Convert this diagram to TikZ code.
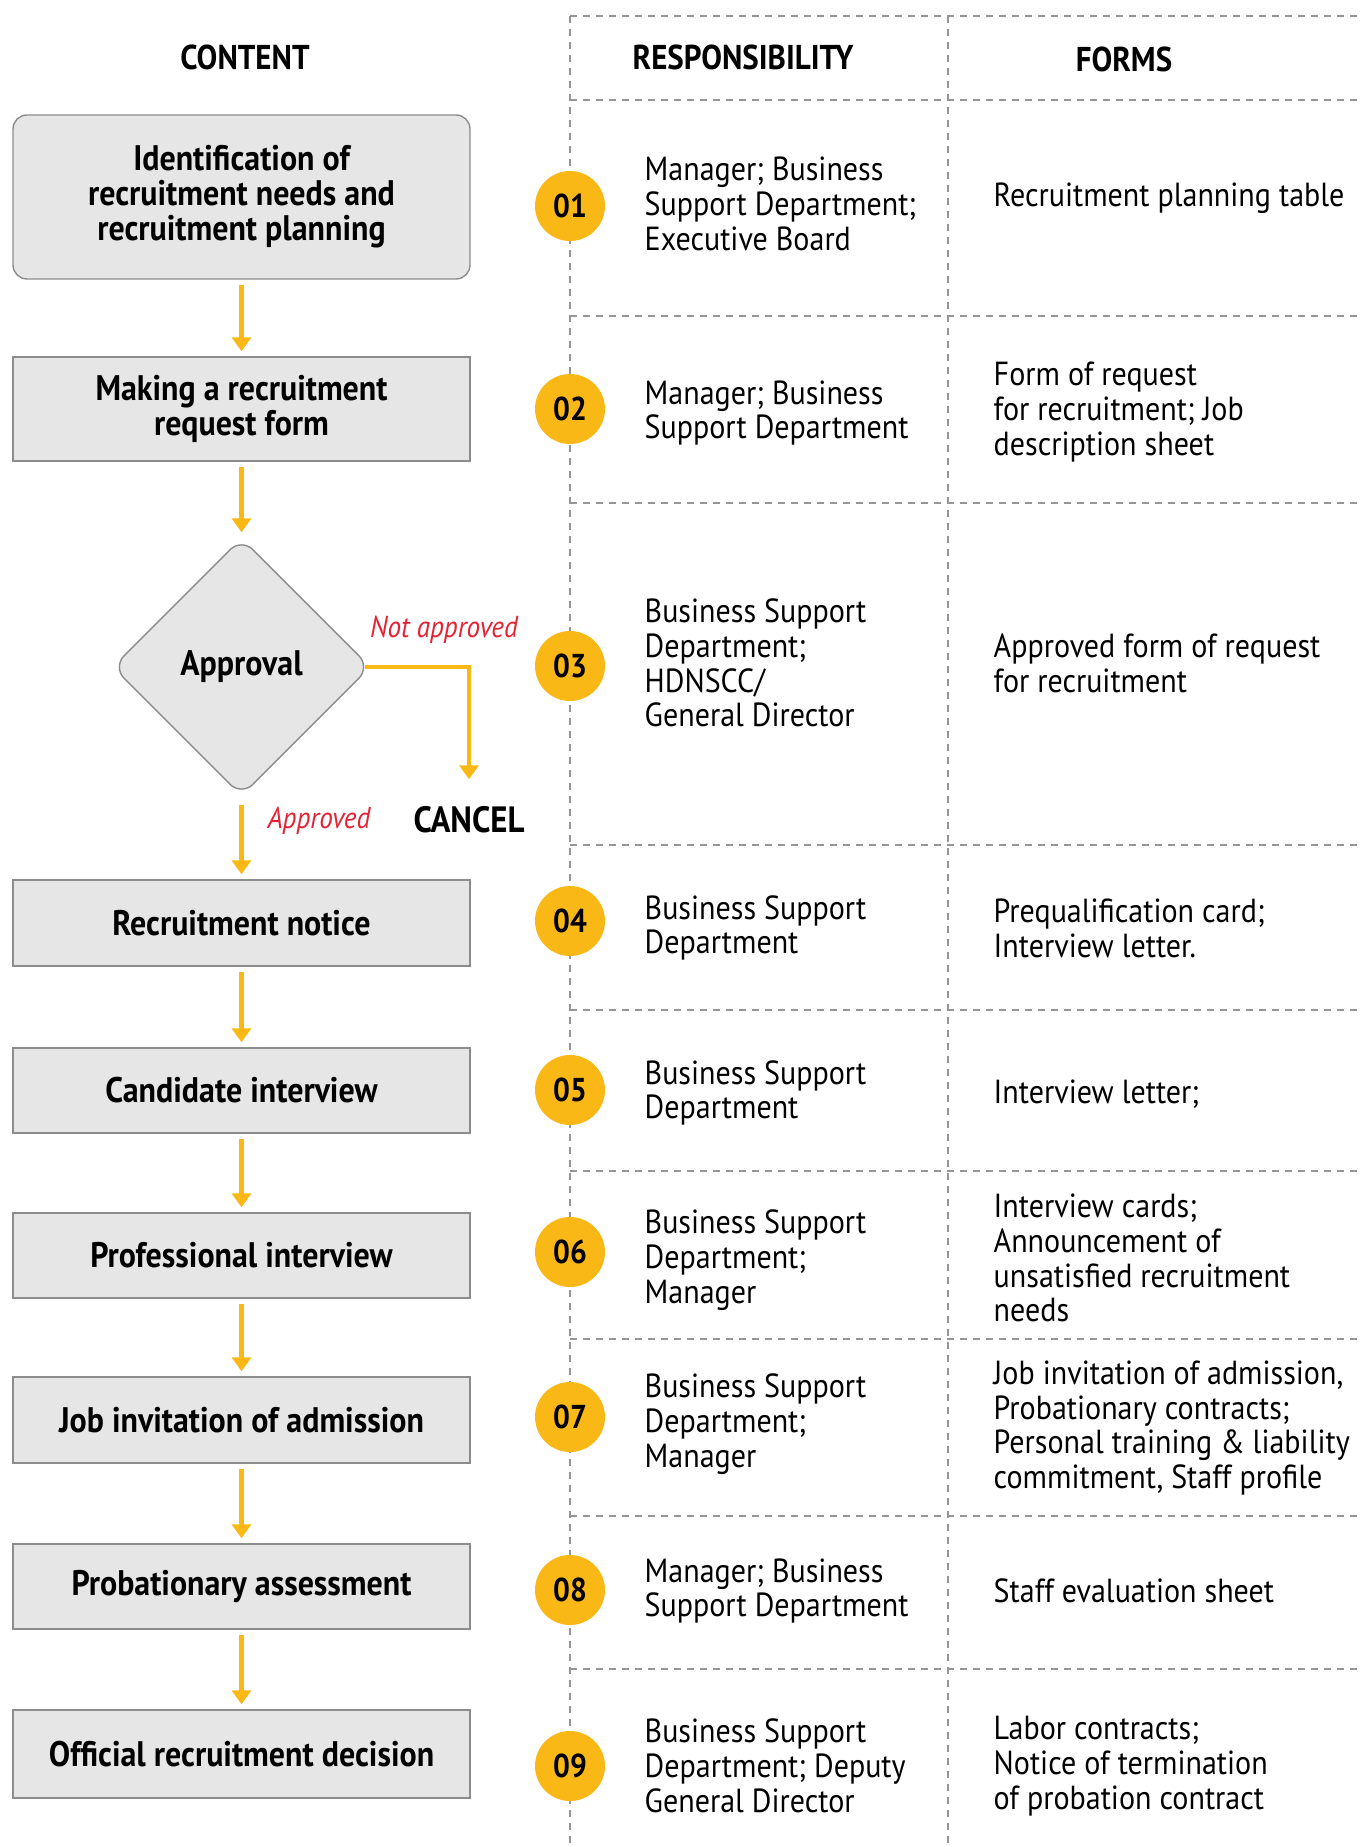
\documentclass[tikz,border=0pt]{standalone}
\usepackage{fontspec}
\setmainfont{PT Sans}[FakeStretch=0.9]
\usepackage{tikz}
\usetikzlibrary{shapes.geometric,arrows.meta}

\definecolor{flowgold}{RGB}{250,184,22}
\definecolor{boxgray}{RGB}{230,230,231}
\definecolor{boxline}{RGB}{140,140,140}
\definecolor{notered}{RGB}{226,36,52}
\definecolor{gridgray}{RGB}{150,150,150}

\tikzset{
  stepbox/.style={draw=boxline, fill=boxgray, line width=0.4pt, minimum width=45.7mm,
    align=center, font=\bfseries\fontsize{10.1}{10}\selectfont},
  decision/.style={diamond, draw=boxline, fill=boxgray, line width=0.4pt, inner sep=0pt,
    minimum width=25.8mm, minimum height=25.8mm, rounded corners=1.6mm,
    font=\bfseries\fontsize{10.1}{10}\selectfont},
  stepnum/.style={circle, fill=flowgold, minimum size=7mm, inner sep=0pt,
    font=\bfseries\fontsize{9.4}{10}\selectfont},
  celltext/.style={anchor=west, align=left, inner sep=0pt, font=\fontsize{9.5}{9.9}\selectfont},
  header/.style={font=\bfseries\fontsize{9.8}{10}\selectfont},
  note/.style={text=notered, font=\itshape\fontsize{8.6}{10}\selectfont},
  gridline/.style={draw=gridgray, line width=0.3pt, dash pattern=on 0.7mm off 0.6mm},
  flow/.style={draw=flowgold, line width=1.3pt, -{Triangle[length=1.4mm,width=1.9mm]},
    shorten <=0.5mm, shorten >=0.5mm}
}

\begin{document}
\begin{tikzpicture}[x=0.1mm,y=-0.1mm]
\useasboundingbox (0,0) rectangle (1362,1847);

% table grid
\foreach \y in {16,100,316,503,845,1010,1171,1339,1516,1669}
  \draw[gridline] (570,\y) -- (1362,\y);
\foreach \x in {570,948}
  \draw[gridline] (\x,16) -- (\x,1847);

\node[header] (hcontent) at (245,57) {CONTENT};
\node[header] (hresp) at (743,57) {RESPONSIBILITY};
\node[header] (hforms) at (1124,59) {FORMS};

% process column
\node[stepbox, rounded corners=1.4mm, minimum height=16.4mm] (s1) at (241.5,197)
  {Identification of\\recruitment needs and\\recruitment planning};
\node[stepbox, minimum height=10.4mm] (s2) at (241.5,409) {Making a recruitment\\request form};
\node[decision] (appr) at (241.5,667) {Approval};
\node[font=\bfseries\fontsize{10.4}{10}\selectfont] (cancel) at (469,820) {CANCEL};
\node[stepbox, minimum height=8.6mm] (s4) at (241.5,923) {Recruitment notice};
\node[stepbox, minimum height=8.5mm] (s5) at (241.5,1090.5) {Candidate interview};
\node[stepbox, minimum height=8.5mm] (s6) at (241.5,1255.5) {Professional interview};
\node[stepbox, minimum height=8.6mm] (s7) at (241.5,1420) {Job invitation of admission};
\node[stepbox, minimum height=8.5mm] (s8) at (241.5,1586.5) {Probationary assessment};
\node[stepbox, minimum height=8.8mm] (s9) at (241.5,1754) {Official recruitment decision};

\draw[flow] (s1) -- (s2);
\draw[flow] (s2) -- (appr);
\draw[flow, shorten <=0.8mm] (appr) -- (s4);
\draw[flow, shorten <=0pt, shorten >=1.5mm] ([xshift=-0.6mm]appr.east) -| (cancel.north);
\foreach \a/\b in {s4/s5,s5/s6,s6/s7,s7/s8,s8/s9}
  \draw[flow] (\a) -- (\b);

\node[note] (yes) at (319,821) {Approved};
\node[note] (no) at (444,630) {Not approved};

% step numbers
\foreach \n/\y in {01/206,02/409,03/666,04/921,05/1090,06/1252,07/1417,08/1590,09/1766}
  \node[stepnum] (n\n) at (570,\y) {\n};

% responsibility
\node[celltext] (r1) at (644,204) {Manager; Business\\Support Department;\\Executive Board};
\node[celltext] (r2) at (644,413) {Manager; Business\\Support Department};
\node[celltext] (r3) at (644,663) {Business Support\\Department;\\HDNSCC/\\General Director};
\node[celltext] (r4) at (644,928) {Business Support\\Department};
\node[celltext] (r5) at (644,1093) {Business Support\\Department};
\node[celltext] (r6) at (644,1260) {Business Support\\Department;\\Manager};
\node[celltext] (r7) at (644,1424) {Business Support\\Department;\\Manager};
\node[celltext] (r8) at (644,1591) {Manager; Business\\Support Department};
\node[celltext] (r9) at (644,1766) {Business Support\\Department; Deputy\\General Director};

% forms
\node[celltext] (f1) at (993,198) {Recruitment planning table};
\node[celltext] (f2) at (993,412) {Form of request\\for recruitment; Job\\description sheet};
\node[celltext] (f3) at (993,663) {Approved form of request\\for recruitment};
\node[celltext] (f4) at (993,928) {Prequalification card;\\Interview letter.};
\node[celltext] (f5) at (993,1094) {Interview letter;};
\node[celltext] (f6) at (993,1258) {Interview cards;\\Announcement of\\unsatisfied recruitment\\needs};
\node[celltext] (f7) at (993,1428) {Job invitation of admission,\\Probationary contracts;\\Personal training \& liability\\commitment, Staff profile};
\node[celltext] (f8) at (993,1591) {Staff evaluation sheet};
\node[celltext] (f9) at (993,1766) {Labor contracts;\\Notice of termination\\of probation contract};

\end{tikzpicture}
\end{document}
